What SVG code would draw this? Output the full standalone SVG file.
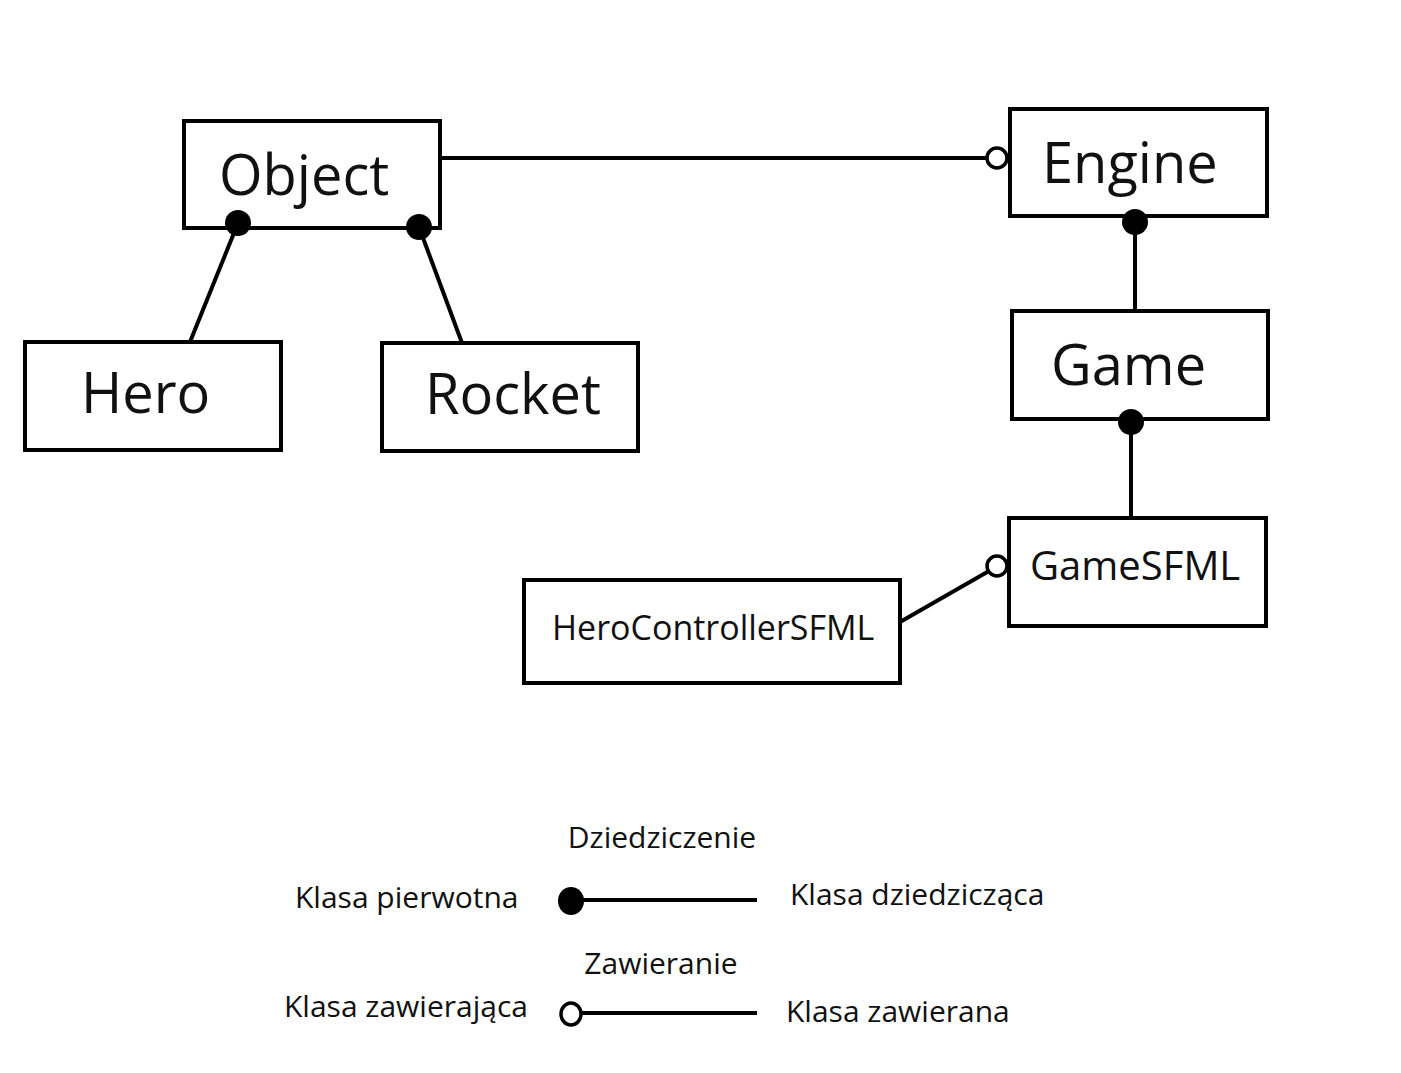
<svg xmlns="http://www.w3.org/2000/svg" width="1401" height="1073" viewBox="0 0 1401 1073">
<style>
.box{fill:#fff;stroke:#000;stroke-width:4}
.t{font-family:"Open Sans","Noto Sans",sans-serif;fill:#111}
.big{font-size:56px}
.lg{font-size:30px}
.ln{stroke:#000;stroke-width:4;fill:none}
.dot{fill:#000}
.ring{fill:#fff;stroke:#000;stroke-width:3.5}
</style>
<rect width="1401" height="1073" fill="#fff"/>
<g id="connectors">
<line class="ln" x1="440" y1="158" x2="988" y2="158"/>
<circle class="ring" cx="997" cy="158" r="10"/>
<line class="ln" x1="238" y1="223" x2="190" y2="342"/>
<line class="ln" x1="419" y1="227" x2="462" y2="343"/>
<line class="ln" x1="1135" y1="222" x2="1135" y2="313"/>
<line class="ln" x1="1131" y1="422" x2="1131" y2="518"/>
<line class="ln" x1="900" y1="622" x2="989" y2="571"/>
<circle class="ring" cx="997" cy="566" r="10"/>
</g>
<g id="Object"><rect class="box" x="184" y="121" width="256" height="107"/><text class="t big" x="219" y="195">Object</text></g>
<g id="Engine"><rect class="box" x="1010" y="109" width="257" height="107"/><text class="t big" x="1042" y="183">Engine</text></g>
<g id="Hero"><rect class="box" x="25" y="342" width="256" height="108"/><text class="t big" x="81" y="413">Hero</text></g>
<g id="Rocket"><rect class="box" x="382" y="343" width="256" height="108"/><text class="t big" x="425" y="414">Rocket</text></g>
<g id="Game"><rect class="box" x="1012" y="311" width="256" height="108"/><text class="t big" x="1051" y="385">Game</text></g>
<g id="GameSFML"><rect class="box" x="1009" y="518" width="257" height="108"/><text class="t" font-size="40" x="1030" y="580">GameSFML</text></g>
<g id="HeroControllerSFML"><rect class="box" x="524" y="580" width="376" height="103"/><text class="t" font-size="34" x="552" y="640">HeroControllerSFML</text></g>
<g id="dots">
<circle class="dot" cx="238" cy="223" r="13"/>
<circle class="dot" cx="419" cy="227" r="13"/>
<circle class="dot" cx="1135" cy="222" r="13"/>
<circle class="dot" cx="1131" cy="422" r="13"/>
</g>
<g id="legend">
<text class="t lg" x="662" y="848" text-anchor="middle">Dziedziczenie</text>
<text class="t lg" x="295" y="908">Klasa pierwotna</text>
<line class="ln" x1="571" y1="900" x2="757" y2="900"/>
<ellipse class="dot" cx="571" cy="901" rx="13" ry="14"/>
<text class="t lg" x="790" y="905">Klasa dziedzicząca</text>
<text class="t lg" x="661" y="974" text-anchor="middle">Zawieranie</text>
<text class="t lg" x="284" y="1017">Klasa zawierająca</text>
<line class="ln" x1="582" y1="1013" x2="757" y2="1013"/>
<ellipse class="ring" cx="571" cy="1014" rx="10" ry="11"/>
<text class="t lg" x="786" y="1022">Klasa zawierana</text>
</g>
</svg>
